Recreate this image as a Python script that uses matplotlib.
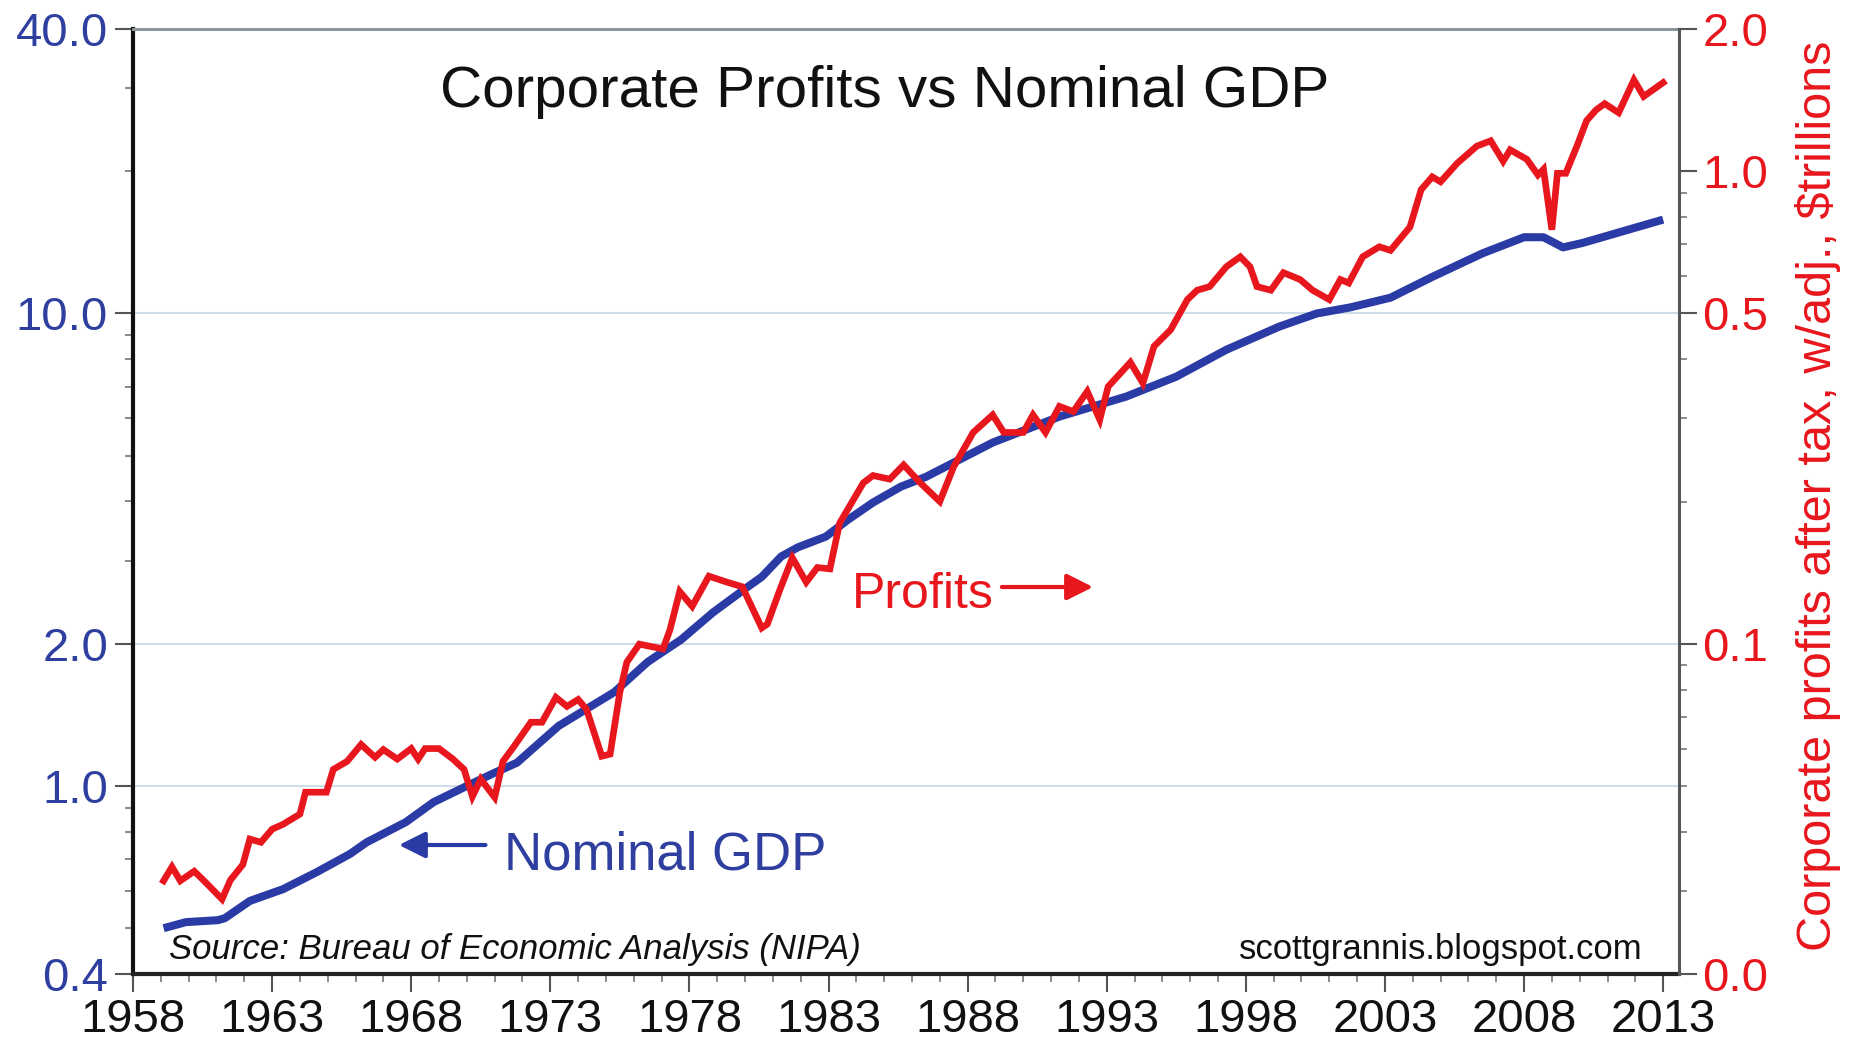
import matplotlib
matplotlib.use('Agg')
import matplotlib.pyplot as plt
from matplotlib.ticker import FixedLocator, FixedFormatter, LogLocator, NullFormatter, MultipleLocator

plt.rcParams['font.family'] = ['Liberation Sans', 'DejaVu Sans']

# ---------------- data ----------------
gdp_year = [1959.1, 1959.9, 1961.05, 1961.3, 1962.2, 1963.4, 1964.6, 1965.8, 1966.4, 1967.8,
            1968.8, 1970.0, 1970.9, 1971.8, 1973.3, 1975.3, 1976.5, 1977.7, 1978.85, 1980.1,
            1980.6, 1981.3, 1981.9, 1982.9, 1983.7, 1984.6, 1985.6, 1986.5, 1988.9, 1991.3,
            1993.7, 1995.5, 1997.3, 1999.2, 2000.55, 2001.75, 2003.2, 2004.7, 2006.5, 2008.0,
            2008.7, 2009.4, 2010.1, 2013.0]
gdp_val = [0.50, 0.515, 0.52, 0.525, 0.571, 0.605, 0.657, 0.718, 0.76, 0.838,
           0.924, 1.0, 1.06, 1.12, 1.34, 1.58, 1.83, 2.04, 2.33, 2.64,
           2.77, 3.06, 3.2, 3.37, 3.66, 3.98, 4.3, 4.51, 5.33, 6.05,
           6.67, 7.35, 8.38, 9.38, 10.0, 10.3, 10.8, 11.95, 13.4, 14.5,
           14.5, 13.8, 14.1, 15.8]

profit_year = [1959.1, 1959.4, 1959.7, 1960.2, 1960.6, 1961.2, 1961.5, 1961.95, 1962.2, 1962.6,
               1963.0, 1963.4, 1964.0, 1964.2, 1964.95, 1965.2, 1965.7, 1966.2, 1966.7, 1967.0,
               1967.5, 1968.0, 1968.25, 1968.5, 1969.0, 1969.5, 1969.9, 1970.2, 1970.5, 1971.0,
               1971.3, 1971.7, 1972.3, 1972.7, 1973.2, 1973.6, 1974.0, 1974.3, 1974.85, 1975.15,
               1975.5, 1975.75, 1976.2, 1977.05, 1977.3, 1977.65, 1978.1, 1978.7, 1979.35, 1979.9,
               1980.6, 1980.8, 1981.25, 1981.7, 1982.2, 1982.6, 1983.05, 1983.4, 1984.25, 1984.6,
               1985.2, 1985.7, 1986.3, 1987.0, 1987.5, 1988.2, 1988.9, 1989.3, 1990.0, 1990.35,
               1990.8, 1991.3, 1991.8, 1992.3, 1992.75, 1993.05, 1993.85, 1994.3, 1994.7, 1995.3,
               1995.9, 1996.25, 1996.7, 1997.3, 1997.8, 1998.15, 1998.4, 1998.9, 1999.35, 1999.95,
               2000.4, 2001.0, 2001.4, 2001.7, 2002.2, 2002.8, 2003.2, 2003.9, 2004.3, 2004.7,
               2005.0, 2005.6, 2006.3, 2006.8, 2007.25, 2007.5, 2008.1, 2008.5, 2008.7, 2009.0,
               2009.2, 2009.5, 2009.9, 2010.25, 2010.6, 2010.9, 2011.4, 2011.95, 2012.3, 2013.0]
profit_val = [0.0315, 0.0337, 0.0315, 0.033, 0.0313, 0.0288, 0.0316, 0.0341, 0.0386, 0.038,
              0.0405, 0.0415, 0.0436, 0.0485, 0.0485, 0.0542, 0.0564, 0.0612, 0.0575, 0.0597,
              0.0570, 0.060, 0.057, 0.060, 0.060, 0.057, 0.0542, 0.0475, 0.0517, 0.0473,
              0.0564, 0.0607, 0.0682, 0.0682, 0.077, 0.0737, 0.0762, 0.0727, 0.0578, 0.0584,
              0.079, 0.0914, 0.0998, 0.0975, 0.107, 0.129, 0.12, 0.139, 0.135, 0.132,
              0.108, 0.11, 0.130, 0.152, 0.135, 0.145, 0.144, 0.180, 0.219, 0.227,
              0.223, 0.239, 0.219, 0.200, 0.237, 0.28, 0.305, 0.28, 0.28, 0.305,
              0.28, 0.318, 0.31, 0.342, 0.298, 0.35, 0.394, 0.356, 0.426, 0.462,
              0.535, 0.56, 0.57, 0.628, 0.659, 0.628, 0.57, 0.56, 0.61, 0.59,
              0.56, 0.535, 0.59, 0.58, 0.659, 0.692, 0.68, 0.762, 0.914, 0.973,
              0.95, 1.04, 1.13, 1.16, 1.05, 1.11, 1.06, 0.982, 1.01, 0.752,
              0.99, 0.99, 1.13, 1.28, 1.35, 1.39, 1.33, 1.56, 1.44, 1.54]

year_ticks = list(range(1958, 2014, 5))
left_ticks = [0.4, 1.0, 2.0, 10.0, 40.0]
left_labels = ['0.4', '1.0', '2.0', '10.0', '40.0']
right_ticks = [0.02, 0.1, 0.5, 1.0, 2.0]
right_labels = ['0.0', '0.1', '0.5', '1.0', '2.0']

title = 'Corporate Profits vs Nominal GDP'
right_label = 'Corporate profits after tax, w/adj., $trillions'
source = 'Source: Bureau of Economic Analysis (NIPA)'
site = 'scottgrannis.blogspot.com'

# ---------------- styling ----------------
BLUE = '#2b3ba6'
BLUE_TXT = '#2f3f9f'
RED = '#e8161d'
GRID = '#cfdde6'

W, H = 1851, 1042
fig = plt.figure(figsize=(W / 100, H / 100), dpi=100)
L, R, T, B = 133, 1679, 29, 974
ax = fig.add_axes([L / W, 1 - B / H, (R - L) / W, (B - T) / H])
ax2 = ax.twinx()

ax.set_yscale('log')
ax.set_ylim(0.4, 40)
ax2.set_yscale('log')
ax2.set_ylim(0.02, 2.0)
ax.set_xlim(1958, 2013.57)

ax.plot(gdp_year, gdp_val, color=BLUE, lw=5.8, solid_capstyle='butt', zorder=3)
ax2.plot(profit_year, profit_val, color=RED, lw=4.8, solid_joinstyle='miter', zorder=3)

# ticks
ax.xaxis.set_major_locator(FixedLocator(year_ticks))
ax.xaxis.set_minor_locator(MultipleLocator(1))
ax.yaxis.set_major_locator(FixedLocator(left_ticks))
ax.yaxis.set_major_formatter(FixedFormatter(left_labels))
ax.yaxis.set_minor_locator(LogLocator(base=10, subs=range(2, 10), numticks=30))
ax.yaxis.set_minor_formatter(NullFormatter())
ax2.yaxis.set_major_locator(FixedLocator(right_ticks))
ax2.yaxis.set_major_formatter(FixedFormatter(right_labels))
ax2.yaxis.set_minor_locator(LogLocator(base=10, subs=range(2, 10), numticks=30))
ax2.yaxis.set_minor_formatter(NullFormatter())

ax.tick_params(axis='x', which='major', direction='out', length=13, width=1.5,
               color='#555555', labelsize=34, labelcolor='#111111', pad=4)
ax.tick_params(axis='x', which='minor', direction='out', length=6, width=1.2, color='#777777')
ax.tick_params(axis='y', which='major', direction='out', length=13, width=1.5,
               color='#555555', labelsize=34, labelcolor=BLUE_TXT, pad=5)
ax.tick_params(axis='y', which='minor', direction='out', length=6, width=1.2, color='#777777')
ax2.tick_params(axis='y', which='major', direction='out', length=13, width=1.5,
                color='#555555', labelsize=34, labelcolor=RED, pad=4)
ax2.tick_params(axis='y', which='minor', direction='out', length=6, width=1.2, color='#777777')

# grid
ax.set_axisbelow(True)
ax.grid(axis='y', which='major', color=GRID, lw=1.5)

# spines
for a in (ax, ax2):
    a.spines['left'].set_visible(a is ax)
    a.spines['bottom'].set_visible(a is ax)
    a.spines['right'].set_visible(a is ax2)
    a.spines['top'].set_visible(a is ax)
ax.spines['left'].set_color('#111111')
ax.spines['left'].set_linewidth(3)
ax.spines['bottom'].set_color('#222222')
ax.spines['bottom'].set_linewidth(3)
ax.spines['top'].set_color('#8a969c')
ax.spines['top'].set_linewidth(2.2)
ax2.spines['right'].set_color('#555555')
ax2.spines['right'].set_linewidth(2.2)

# texts
ax2.text(0.4864, 0.9175, title, transform=ax2.transAxes, ha='center', va='baseline',
         fontsize=42, color='#111111')
ax2.text(0.465, 0.387, 'Profits', transform=ax2.transAxes, ha='left', va='baseline',
         fontsize=36, color=RED)
ax2.annotate('', xy=(0.621, 0.4095), xytext=(0.562, 0.4095), xycoords='axes fraction',
             arrowprops=dict(arrowstyle='-|>', color=RED, lw=3, mutation_scale=40,
                             shrinkA=0, shrinkB=0))
ax2.text(0.240, 0.111, 'Nominal GDP', transform=ax2.transAxes, ha='left', va='baseline',
         fontsize=38, color=BLUE_TXT)
ax2.annotate('', xy=(0.172, 0.1365), xytext=(0.228, 0.1365), xycoords='axes fraction',
             arrowprops=dict(arrowstyle='-|>', color=BLUE, lw=3, mutation_scale=40,
                             shrinkA=0, shrinkB=0))
ax2.text(0.0233, 0.0164, source, transform=ax2.transAxes, ha='left', va='baseline',
         fontsize=25, style='italic', color='#111111')
ax2.text(0.9767, 0.0164, site, transform=ax2.transAxes, ha='right', va='baseline',
         fontsize=25, color='#111111')

fig.text(1818 / W, 1 - 496 / H, right_label, rotation=90, ha='center', va='center',
         fontsize=35, color=RED)

fig.savefig('out.png', dpi=100, facecolor='white')
